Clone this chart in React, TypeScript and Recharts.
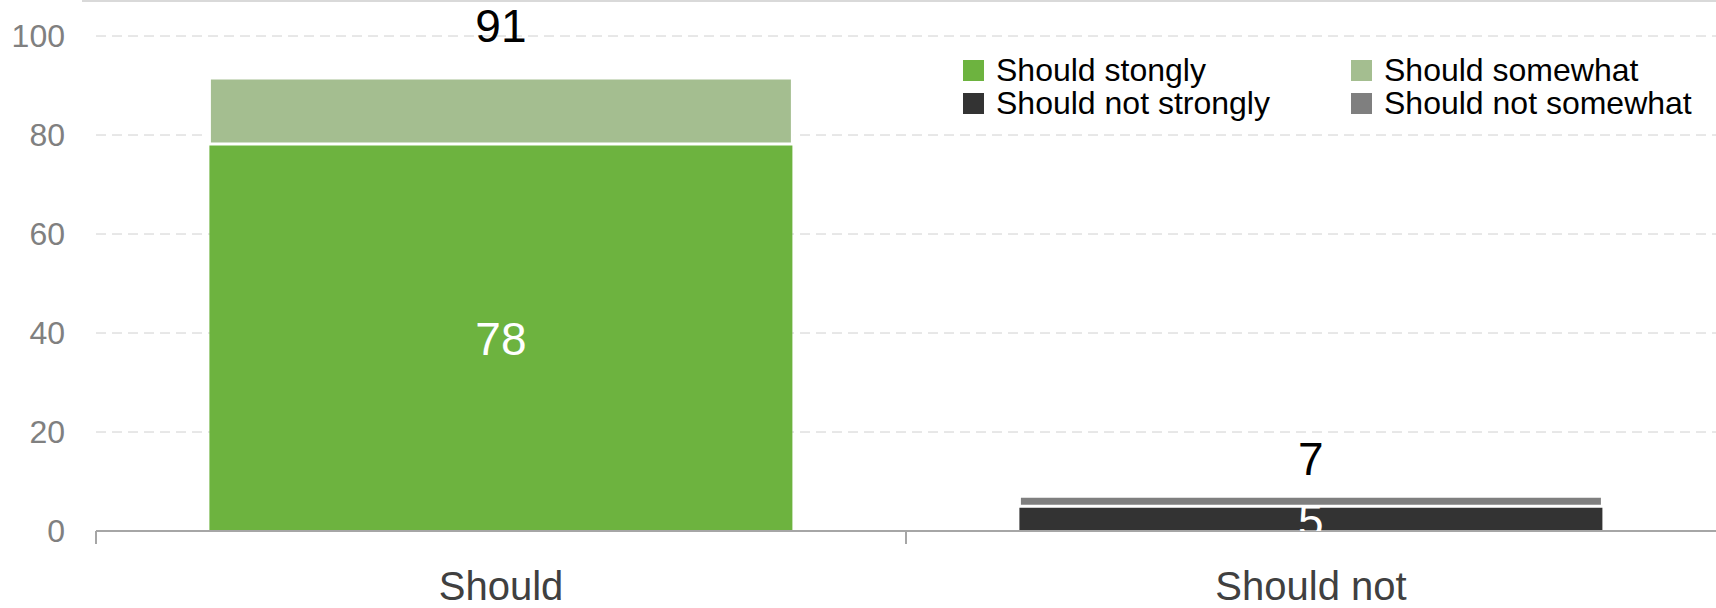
import { BarChart, Bar, XAxis, YAxis, CartesianGrid, Cell, LabelList } from 'recharts';

const categories = ['Should', 'Should not'];
const strongValues = [78.2, 5];
const somewhatValues = [13.3, 2];
const totals = [91, 7];
const yTicks = [0, 20, 40, 60, 80, 100];

const strongColors = ['#6db33f', '#333333'];
const somewhatColors = ['#a4be90', '#7f7f7f'];

const legendNames = ['Should stongly', 'Should somewhat', 'Should not strongly', 'Should not somewhat'];
const legendColors = ['#6db33f', '#a4be90', '#333333', '#7f7f7f'];

const FONT = '"Liberation Sans", Arial, sans-serif';
const WIDTH = 1716;
const HEIGHT = 608;
const Y_AXIS_W = 96;
const X_AXIS_H = 77;
const PLOT_BOTTOM = HEIGHT - X_AXIS_H;
const BAND = (WIDTH - Y_AXIS_W) / categories.length;

const data = categories.map((name, i) => ({
  name,
  strong: strongValues[i],
  somewhat: somewhatValues[i],
  total: totals[i],
}));

const CategoryTick = (props: any) => {
  const { x, y, payload } = props;
  const edge = Number(x) - BAND / 2;
  return (
    <g>
      <line x1={edge} y1={y} x2={edge} y2={Number(y) + 13} stroke="#a6a6a6" strokeWidth={2} />
      <text x={x} y={Number(y) + 69} textAnchor="middle" fill="#404040" fontSize={40} fontFamily={FONT}>
        {payload.value}
      </text>
    </g>
  );
};

// white value inside the segment, clipped to the segment itself
const InsideLabel = (props: any) => {
  const x = Number(props.x);
  const y = Number(props.y);
  const width = Number(props.width);
  const height = Number(props.height);
  const id = `clip-inside-${props.index}`;
  return (
    <g>
      <defs>
        <clipPath id={id}>
          <rect x={x} y={y} width={width} height={height} />
        </clipPath>
      </defs>
      <text
        x={x + width / 2}
        y={y + height / 2 + 18}
        textAnchor="middle"
        fill="#ffffff"
        fontSize={46}
        fontFamily={FONT}
        clipPath={`url(#${id})`}
      >
        {Math.round(Number(props.value))}
      </text>
    </g>
  );
};

// total above the stack
const TopLabel = (props: any) => {
  const x = Number(props.x);
  const y = Number(props.y);
  const width = Number(props.width);
  const lift = 36 + 0.036 * (PLOT_BOTTOM - y);
  return (
    <text x={x + width / 2} y={y - lift + 16} textAnchor="middle" fill="#000000" fontSize={46} fontFamily={FONT}>
      {props.value}
    </text>
  );
};

const App = () => {
  return (
    <div
      style={{
        position: 'absolute',
        left: 0,
        top: 0,
        width: WIDTH,
        height: HEIGHT,
        background: '#ffffff',
        overflow: 'hidden',
        fontFamily: FONT,
      }}
    >
      <div style={{ position: 'absolute', left: 82, right: 0, top: 0, height: 2, background: '#d9d9d9' }} />
      <BarChart
        width={WIDTH}
        height={HEIGHT}
        data={data}
        margin={{ top: 36, right: 0, bottom: 0, left: 0 }}
        barCategoryGap="14%"
      >
        <CartesianGrid vertical={false} stroke="#d0d0d0" strokeDasharray="10 6" />
        <XAxis
          dataKey="name"
          height={X_AXIS_H}
          axisLine={{ stroke: '#a6a6a6', strokeWidth: 2 }}
          tickLine={false}
          tickSize={0}
          tickMargin={0}
          tick={<CategoryTick />}
          interval={0}
        />
        <YAxis
          width={Y_AXIS_W}
          domain={[0, 100]}
          ticks={yTicks}
          axisLine={false}
          tickLine={false}
          tickSize={0}
          tickMargin={31}
          tick={{ fill: '#808080', fontSize: 32, fontFamily: FONT }}
        />
        <Bar dataKey="strong" stackId="a" isAnimationActive={false}>
          {data.map((d, i) => (
            <Cell key={d.name} fill={strongColors[i]} />
          ))}
          <LabelList dataKey="strong" content={<InsideLabel />} />
        </Bar>
        <Bar dataKey="somewhat" stackId="a" stroke="#ffffff" strokeWidth={3} isAnimationActive={false}>
          {data.map((d, i) => (
            <Cell key={d.name} fill={somewhatColors[i]} stroke="#ffffff" />
          ))}
          <LabelList dataKey="total" content={<TopLabel />} />
        </Bar>
      </BarChart>
      <div
        style={{
          position: 'absolute',
          left: 963,
          top: 54,
          display: 'grid',
          gridTemplateColumns: '388px auto',
          fontSize: 32,
          color: '#000000',
        }}
      >
        {legendNames.map((name, i) => (
          <div key={name} style={{ display: 'flex', alignItems: 'center', height: 33, whiteSpace: 'nowrap' }}>
            <span style={{ width: 21, height: 21, background: legendColors[i], marginRight: 12, display: 'inline-block' }} />
            <span style={{ lineHeight: '33px' }}>{name}</span>
          </div>
        ))}
      </div>
    </div>
  );
};

export default App;
